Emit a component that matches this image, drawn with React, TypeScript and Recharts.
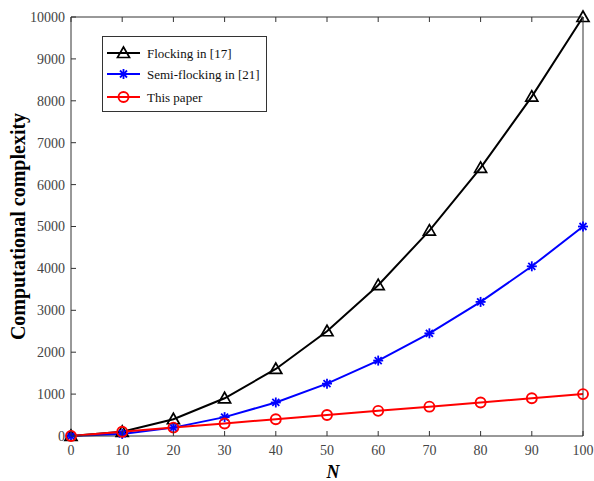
import React from "react";
import { LineChart, Line, XAxis, YAxis } from "recharts";

const nValues = [0, 10, 20, 30, 40, 50, 60, 70, 80, 90, 100];
const flocking = [0, 100, 400, 900, 1600, 2500, 3600, 4900, 6400, 8100, 10000];
const semiFlocking = [0, 50, 200, 450, 800, 1250, 1800, 2450, 3200, 4050, 5000];
const thisPaper = [0, 100, 200, 300, 400, 500, 600, 700, 800, 900, 1000];
const xTicks = [0, 10, 20, 30, 40, 50, 60, 70, 80, 90, 100];
const yTicks = [0, 1000, 2000, 3000, 4000, 5000, 6000, 7000, 8000, 9000, 10000];

const seriesNames = ["Flocking in [17]", "Semi-flocking in [21]", "This paper"];
const seriesColors = ["#000000", "#0000ff", "#ff0000"];

const data = nValues.map((n, i) => ({
  n,
  a: flocking[i],
  b: semiFlocking[i],
  c: thisPaper[i],
}));

const FONT = "'Liberation Serif', 'Times New Roman', serif";

const Triangle = (props: any) => {
  const { cx, cy, stroke } = props;
  if (cx == null || cy == null) return null;
  const s = 6;
  return (
    <polygon
      points={`${cx},${cy - s} ${cx - s},${cy + s * 0.75} ${cx + s},${cy + s * 0.75}`}
      fill="none"
      stroke={stroke}
      strokeWidth={1.7}
    />
  );
};

const Star = (props: any) => {
  const { cx, cy, stroke } = props;
  if (cx == null || cy == null) return null;
  const s = 5;
  const d = s * 0.7;
  return (
    <g stroke={stroke} strokeWidth={1.8}>
      <line x1={cx - s} y1={cy} x2={cx + s} y2={cy} />
      <line x1={cx} y1={cy - s} x2={cx} y2={cy + s} />
      <line x1={cx - d} y1={cy - d} x2={cx + d} y2={cy + d} />
      <line x1={cx - d} y1={cy + d} x2={cx + d} y2={cy - d} />
    </g>
  );
};

const Circle = (props: any) => {
  const { cx, cy, stroke } = props;
  if (cx == null || cy == null) return null;
  return <circle cx={cx} cy={cy} r={5} fill="none" stroke={stroke} strokeWidth={1.9} />;
};

const markers = [Triangle, Star, Circle];

const BottomTick = (props: any) => {
  const { x, y, payload } = props;
  return (
    <g>
      <line x1={x} y1={y} x2={x} y2={y - 5} stroke="#333" strokeWidth={1} />
      <text x={x} y={y + 19} textAnchor="middle" fontFamily={FONT} fontSize={14} fill="#444">
        {payload.value}
      </text>
    </g>
  );
};

const TopTick = (props: any) => {
  const { x, y } = props;
  return <line x1={x} y1={y} x2={x} y2={y + 5} stroke="#333" strokeWidth={1} />;
};

const LeftTick = (props: any) => {
  const { x, y, payload } = props;
  return (
    <g>
      <line x1={x} y1={y} x2={x + 5} y2={y} stroke="#333" strokeWidth={1} />
      <text x={x - 6} y={y} dy="0.35em" textAnchor="end" fontFamily={FONT} fontSize={14} fill="#444">
        {payload.value}
      </text>
    </g>
  );
};

const RightTick = (props: any) => {
  const { x, y } = props;
  return <line x1={x} y1={y} x2={x - 5} y2={y} stroke="#333" strokeWidth={1} />;
};

const YLabel = (props: any) => {
  const { viewBox } = props;
  const cy = viewBox.y + viewBox.height / 2;
  return (
    <text
      x={18}
      y={cy}
      transform={`rotate(-90, 18, ${cy})`}
      textAnchor="middle"
      dominantBaseline="central"
      fontFamily={FONT}
      fontWeight="bold"
      fontSize={20}
      fill="#000"
    >
      Computational complexity
    </text>
  );
};

const XLabel = (props: any) => {
  const { viewBox } = props;
  const cx = viewBox.x + viewBox.width / 2 + 6;
  return (
    <text
      x={cx}
      y={viewBox.y + 42}
      textAnchor="middle"
      fontFamily={FONT}
      fontWeight="bold"
      fontStyle="italic"
      fontSize={18}
      fill="#000"
    >
      N
    </text>
  );
};

const LegendBox = () => {
  const rowY = [17, 38, 61];
  return (
    <svg width={166} height={77} style={{ display: "block" }}>
      <rect x={0.5} y={0.5} width={164} height={75} fill="#fff" stroke="#333" strokeWidth={1} />
      {seriesNames.map((name, i) => {
        const M = markers[i];
        return (
          <g key={name}>
            <line x1={5} y1={rowY[i]} x2={38} y2={rowY[i]} stroke={seriesColors[i]} strokeWidth={2} />
            <M cx={21.5} cy={rowY[i]} stroke={seriesColors[i]} />
            <text x={45} y={rowY[i]} dy="0.35em" fontFamily={FONT} fontSize={13} fill="#111">
              {name}
            </text>
          </g>
        );
      })}
    </svg>
  );
};

export default function App() {
  const keys = ["a", "b", "c"];
  return (
    <div style={{ position: "absolute", left: 0, top: 0, width: 594, height: 481, background: "#fff" }}>
      <LineChart
        width={594}
        height={481}
        data={data}
        margin={{ top: 16, right: 10, bottom: 15, left: 11 }}
      >
        <XAxis
          xAxisId="bottom"
          dataKey="n"
          type="number"
          domain={[0, 100]}
          ticks={xTicks}
          height={30}
          tickSize={0}
          tickMargin={0}
          tickLine={false}
          tick={<BottomTick />}
          stroke="#333"
          interval={0}
          label={<XLabel />}
        />
        <XAxis
          xAxisId="top"
          orientation="top"
          dataKey="n"
          type="number"
          domain={[0, 100]}
          ticks={xTicks}
          height={1}
          tickSize={0}
          tickMargin={0}
          tickLine={false}
          tick={<TopTick />}
          stroke="#333"
          interval={0}
        />
        <YAxis
          yAxisId="left"
          type="number"
          domain={[0, 10000]}
          ticks={yTicks}
          width={60}
          tickSize={0}
          tickMargin={0}
          tickLine={false}
          tick={<LeftTick />}
          stroke="#333"
          interval={0}
          label={<YLabel />}
        />
        <YAxis
          yAxisId="right"
          orientation="right"
          type="number"
          domain={[0, 10000]}
          ticks={yTicks}
          width={1}
          tickSize={0}
          tickMargin={0}
          tickLine={false}
          tick={<RightTick />}
          stroke="#333"
          interval={0}
        />
        {keys.map((k, i) => {
          const M = markers[i];
          return (
            <Line
              key={k}
              xAxisId="bottom"
              yAxisId="left"
              dataKey={k}
              name={seriesNames[i]}
              type="linear"
              stroke={seriesColors[i]}
              strokeWidth={2}
              dot={<M stroke={seriesColors[i]} />}
              isAnimationActive={false}
            />
          );
        })}
      </LineChart>
      <div style={{ position: "absolute", left: 102, top: 36 }}>
        <LegendBox />
      </div>
    </div>
  );
}
